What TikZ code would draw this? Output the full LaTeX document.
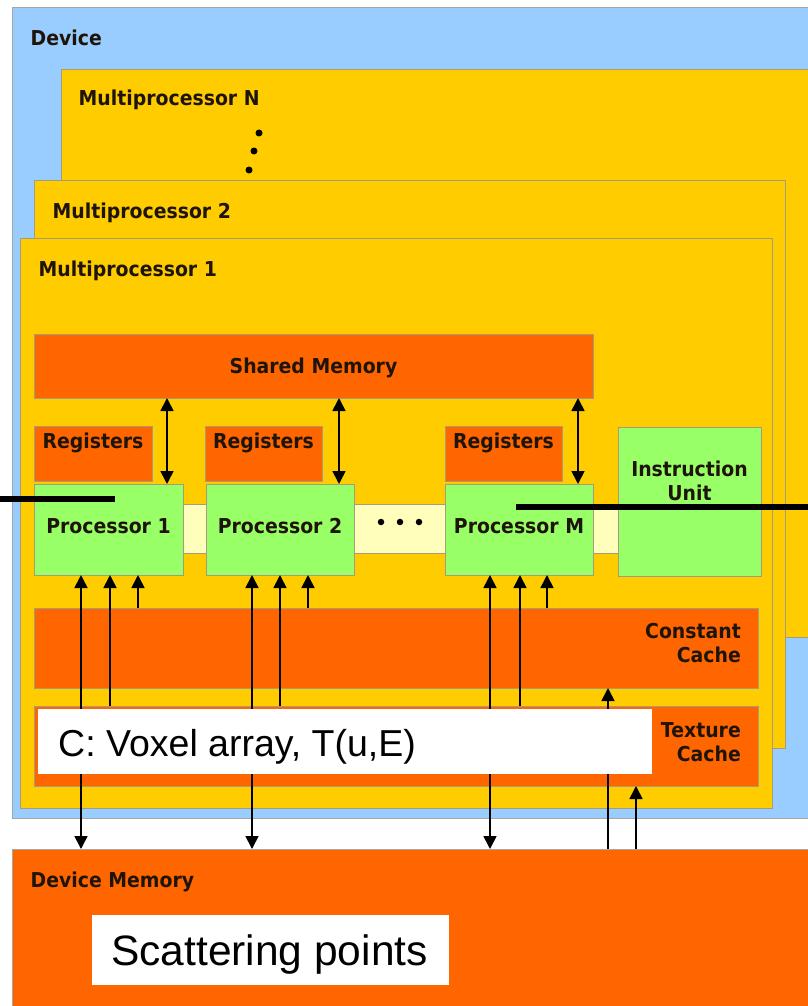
\documentclass[tikz,border=0pt]{standalone}
\usepackage{fontspec}
\usetikzlibrary{arrows.meta,fit}
\newfontfamily\lblfont[FakeStretch=0.92]{DejaVu Sans Bold}
\newfontfamily\arialfont{Liberation Sans}
\definecolor{devblue}{RGB}{153,204,255}
\definecolor{mpyellow}{RGB}{255,204,0}
\definecolor{memorange}{RGB}{255,102,0}
\definecolor{procgreen}{RGB}{153,255,102}
\definecolor{bandyellow}{RGB}{255,255,187}
\definecolor{bordercol}{RGB}{165,155,125}
\definecolor{txtcol}{RGB}{30,20,10}
\begin{document}
\begin{tikzpicture}[x=1pt,y=-1pt,
  box/.style={draw=bordercol, line width=0.8pt, inner sep=0pt, outer sep=0pt},
  lbl/.style={font=\lblfont\fontsize{20.5}{24}\selectfont, text=txtcol, inner sep=0pt},
  wbox/.style={fill=white, draw=none, inner sep=0pt, outer sep=0pt},
  wtxt/.style={font=\arialfont, text=black, inner sep=0pt, anchor=base west},
  arr/.style={line width=1.7pt, -{Triangle[length=13pt,width=13pt]}},
  darr/.style={line width=1.7pt, {Triangle[length=13pt,width=13pt]}-{Triangle[length=13pt,width=13pt]}},
  pointer/.style={line width=6.5pt, black},
  dot/.style={circle, fill=black, minimum size=7pt, inner sep=0pt},
]
\useasboundingbox (0,0) rectangle (808,1006);
\clip (0,0) rectangle (808,1006);
% device and multiprocessors
\node[box, draw=gray!70, fill=devblue, fit={(12,7) (830,818)}] (dev) {};
\node[box, fill=mpyellow, fit={(61,69) (830,637)}] (mpN) {};
\node[box, fill=mpyellow, fit={(34,180) (785,748)}] (mp2) {};
\node[box, fill=mpyellow, fit={(20,238) (772,808)}] (mp1) {};
\node[lbl, anchor=base west] (devt) at (30.5,46) {Device};
\node[lbl, anchor=base west] (mpNt) at (78.5,106) {Multiprocessor N};
\node[lbl, anchor=base west] (mp2t) at (52.5,218) {Multiprocessor 2};
\node[lbl, anchor=base west] (mp1t) at (38.5,276) {Multiprocessor 1};
\node[dot] (vd1) at (259,133) {};
\node[dot] (vd2) at (254,151) {};
\node[dot] (vd3) at (249,170) {};
% inner blocks
\node[box, fill=memorange, fit={(34,334) (593,398)}] (sm) {};
\node[lbl, anchor=base] (smt) at (313.5,373) {Shared Memory};
\node[box, fill=bandyellow, fit={(183,504) (618,553)}] (band) {};
\node[box, fill=memorange, fit={(34,426) (152,481)}] (reg1) {};
\node[box, fill=memorange, fit={(205,426) (322,481)}] (reg2) {};
\node[box, fill=memorange, fit={(445,426) (562,481)}] (regM) {};
\node[lbl, anchor=base] (reg1t) at (93,448) {Registers};
\node[lbl, anchor=base] (reg2t) at (263.5,448) {Registers};
\node[lbl, anchor=base] (regMt) at (503.5,448) {Registers};
\node[box, fill=procgreen, fit={(34,484) (183,575)}] (p1) {};
\node[box, fill=procgreen, fit={(206,484) (354,575)}] (p2) {};
\node[box, fill=procgreen, fit={(445,484) (593,575)}] (pM) {};
\node[lbl, anchor=base] (p1t) at (108.5,533) {Processor 1};
\node[lbl, anchor=base] (p2t) at (280,533) {Processor 2};
\node[lbl, anchor=base] (pMt) at (519,533) {Processor M};
\node[dot, minimum size=6.5pt] (hd1) at (381,522) {};
\node[dot, minimum size=6.5pt] (hd2) at (400,522) {};
\node[dot, minimum size=6.5pt] (hd3) at (419,522) {};
\node[box, fill=procgreen, fit={(618,427) (761,576)}] (iu) {};
\node[lbl, align=center, anchor=north] (iut) at (689.5,461) {Instruction\\Unit};
\node[box, fill=memorange, fit={(34,608) (758,688)}] (cc) {};
\node[lbl, align=right, anchor=north east] (cct) at (741,623) {Constant\\Cache};
\node[box, fill=memorange, fit={(34,706) (758,786)}] (tc) {};
\node[lbl, align=right, anchor=north east] (tct) at (741,722) {Texture\\Cache};
% device memory
\node[box, draw=gray!70, fill=memorange, fit={(12,849) (830,1030)}] (dm) {};
\node[lbl, anchor=base west] (dmt) at (30.5,887) {Device Memory};
% arrow columns
\coordinate (s1) at (167,0); \coordinate (s2) at (339,0); \coordinate (s3) at (578,0);
\coordinate (a1) at (81,0);  \coordinate (b1) at (110,0); \coordinate (c1) at (138,0);
\coordinate (a2) at (252,0); \coordinate (b2) at (280,0); \coordinate (c2) at (308,0);
\coordinate (a3) at (490,0); \coordinate (b3) at (520,0); \coordinate (c3) at (547,0);
\coordinate (r1) at (608,0); \coordinate (r2) at (636,0);
\draw[darr] (sm.south -| s1) -- (p1.north -| s1);
\draw[darr] (sm.south -| s2) -- (p2.north -| s2);
\draw[darr] (sm.south -| s3) -- (pM.north -| s3);
\draw[darr] (dm.north -| a1) -- (p1.south -| a1);
\draw[arr]  (tc.north -| b1) -- (p1.south -| b1);
\draw[arr]  (cc.north -| c1) -- (p1.south -| c1);
\draw[darr] (dm.north -| a2) -- (p2.south -| a2);
\draw[arr]  (tc.north -| b2) -- (p2.south -| b2);
\draw[arr]  (cc.north -| c2) -- (p2.south -| c2);
\draw[darr] (dm.north -| a3) -- (pM.south -| a3);
\draw[arr]  (tc.north -| b3) -- (pM.south -| b3);
\draw[arr]  (cc.north -| c3) -- (pM.south -| c3);
\draw[arr]  (dm.north -| r1) -- (cc.south -| r1);
\draw[arr]  (dm.north -| r2) -- (tc.south -| r2);
% white annotation boxes
\node[wbox, fit={(38,709) (652,774)}] (cbox) {};
\node[wtxt, font=\arialfont\fontsize{37.5}{42}\selectfont] (cboxt) at (58,756) {C: Voxel array, T(u,E)};
\node[wbox, fit={(92,915) (449,985)}] (sbox) {};
\node[wtxt, font=\arialfont\fontsize{42.5}{46}\selectfont] (sboxt) at (111,965) {Scattering points};
% black pointer lines
\coordinate (lp0) at (0,499); \coordinate (lp1) at (115,499);
\coordinate (rp0) at (516,507); \coordinate (rp1) at (808,507);
\draw[pointer] (lp0) -- (lp1);
\draw[pointer] (rp0) -- (rp1);
\end{tikzpicture}
\end{document}
